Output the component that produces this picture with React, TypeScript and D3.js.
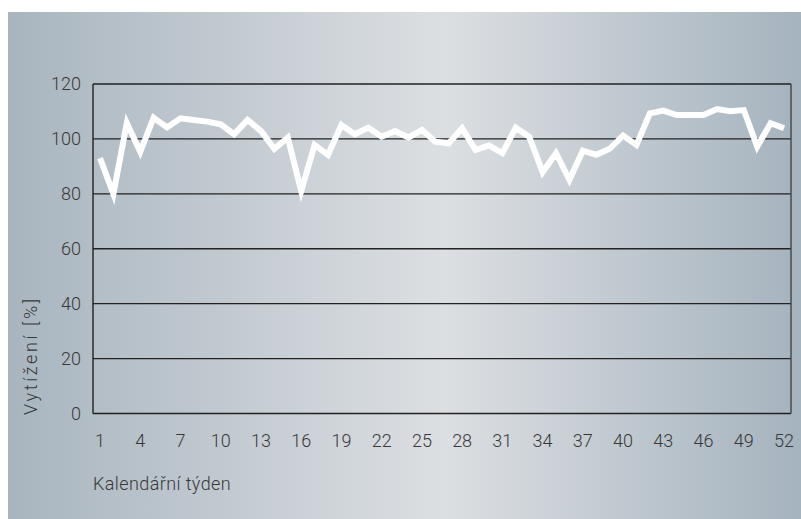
import * as d3 from "d3";

const weeks = d3.range(1, 53);
const load = [
  93, 80, 105.8, 95.3, 107.7, 104.2, 107.5, 106.9, 106.3, 105.3,
  101.7, 106.9, 102.9, 96.4, 100.5, 81, 97.8, 94.2, 105.1, 101.7,
  104.1, 100.8, 102.9, 100.5, 103.3, 99, 98.4, 103.9, 96, 97.6,
  94.8, 104.1, 100.8, 87.9, 94.8, 85.1, 95.7, 94.2, 96.4, 101.2,
  97.8, 109.3, 110.3, 108.7, 108.7, 108.7, 110.9, 110.1, 110.5, 97.2,
  105.7, 103.9,
];
const xTicks = [1, 4, 7, 10, 13, 16, 19, 22, 25, 28, 31, 34, 37, 40, 43, 46, 49, 52];
const yTicks = [0, 20, 40, 60, 80, 100, 120];

const W = 801;
const H = 519;
const plot = { left: 93, right: 791, top: 84, bottom: 413.5 };
const font = "Roboto, 'Liberation Sans', sans-serif";
const ink = "#383838";

export default function App() {
  const x = d3.scaleLinear().domain([1, 52]).range([100, 784]);
  const y = d3.scaleLinear().domain([0, 120]).range([plot.bottom, plot.top]);
  const line = d3
    .line<number>()
    .x((_, i) => x(weeks[i]))
    .y((d) => y(d));

  return (
    <svg
      width={W}
      height={H}
      viewBox={`0 0 ${W} ${H}`}
      style={{ position: "absolute", left: 0, top: 0, fontFamily: font }}
    >
      <defs>
        <linearGradient id="bg" x1="0" x2="1" y1="0" y2="0">
          <stop offset="0%" stopColor="#a8b5bf" />
          <stop offset="55%" stopColor="#dcdfe2" />
          <stop offset="100%" stopColor="#a5b3be" />
        </linearGradient>
      </defs>
      <rect x={0} y={0} width={W} height={H} fill="#fff" />
      <rect x={8} y={12} width={W - 8} height={H - 12} fill="url(#bg)" />

      {/* grid */}
      {yTicks.map((t) => (
        <line
          key={t}
          x1={plot.left}
          x2={plot.right}
          y1={y(t)}
          y2={y(t)}
          stroke="#222"
          strokeWidth={1.4}
        />
      ))}
      <line x1={plot.left} x2={plot.left} y1={plot.top} y2={plot.bottom} stroke="#222" strokeWidth={1.4} />
      <line x1={plot.right} x2={plot.right} y1={plot.top} y2={plot.bottom} stroke="#444" strokeWidth={1.4} />

      {yTicks.map((t) => (
        <text
          key={t}
          x={81}
          y={y(t)}
          dy="0.36em"
          textAnchor="end"
          fontSize={18}
          fontWeight={300}
          fill={ink}
        >
          {t}
        </text>
      ))}
      {xTicks.map((t) => (
        <text
          key={t}
          x={x(t)}
          y={447}
          textAnchor="middle"
          fontSize={18}
          fontWeight={300}
          fill={ink}
        >
          {t}
        </text>
      ))}

      <text
        transform="translate(37,415) rotate(-90)"
        fontSize={18}
        fontWeight={300}
        letterSpacing={2.6}
        fill={ink}
      >
        Vytížení [%]
      </text>
      <text x={93} y={490} fontSize={18} fontWeight={300} letterSpacing={0.4} fill={ink}>
        Kalendářní týden
      </text>

      <path
        d={line(load) ?? ""}
        fill="none"
        stroke="#fff"
        strokeWidth={6}
        strokeLinejoin="miter"
        strokeMiterlimit={4}
      />
    </svg>
  );
}
